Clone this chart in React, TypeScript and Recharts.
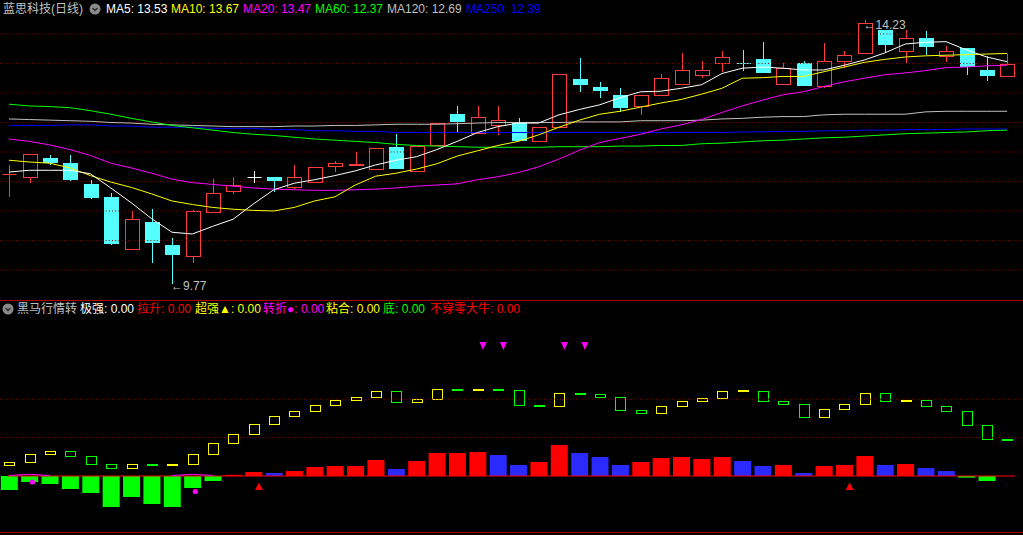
import React from "react";
import {
	Bar,
	Cell,
	ComposedChart,
	Line,
	ReferenceDot,
	ReferenceLine,
	Scatter,
	XAxis,
	YAxis,
} from "recharts";

// ---- price panel data (蓝思科技 日线) ----
const candleOpen = [
	11.62, 11.58, 11.9, 11.81, 11.46, 11.24, 10.36, 10.81, 10.42, 10.24,
	10.99, 11.34, 11.58, 11.58, 11.4, 11.49, 11.77, 11.78, 11.72, 12.08,
	11.68, 12.12, 12.64, 12.32, 12.45, 12.51, 12.18, 12.42, 13.24, 13.1,
	12.97, 12.78, 12.96, 13.16, 13.31, 13.5, 13.51, 13.58, 13.15, 13.51,
	13.11, 13.55, 13.67, 14.06, 13.72, 13.93, 13.62, 13.76, 13.39, 13.28,
];
const candleHigh = [
	11.78, 11.97, 11.95, 11.95, 11.53, 11.31, 11.0, 11.03, 10.55, 11.02,
	11.54, 11.58, 11.68, 11.58, 11.78, 11.74, 11.85, 12.0, 12.06, 12.31,
	12.1, 12.49, 12.78, 12.78, 12.78, 12.58, 12.42, 13.32, 13.59, 13.19,
	13.08, 12.97, 13.32, 13.67, 13.54, 13.71, 13.73, 13.86, 13.5, 13.54,
	13.85, 13.71, 14.23, 14.06, 14.07, 14.05, 13.8, 13.76, 13.62, 13.66,
];
const candleLow = [
	11.24, 11.48, 11.78, 11.51, 11.21, 10.43, 10.34, 10.11, 9.77, 10.11,
	10.98, 11.29, 11.48, 11.33, 11.37, 11.47, 11.66, 11.76, 11.7, 11.71,
	11.66, 12.12, 12.34, 12.32, 12.29, 12.19, 12.18, 12.42, 13.01, 12.92,
	12.67, 12.63, 12.96, 13.16, 13.26, 13.36, 13.37, 13.34, 13.15, 13.11,
	13.09, 13.42, 13.67, 13.68, 13.5, 13.65, 13.53, 13.3, 13.2, 13.28,
];
const candleClose = [
	11.63, 11.97, 11.81, 11.53, 11.22, 10.44, 10.86, 10.46, 10.25, 11.0,
	11.31, 11.44, 11.58, 11.51, 11.57, 11.74, 11.81, 11.8, 12.06, 11.71,
	12.1, 12.49, 12.51, 12.59, 12.55, 12.19, 12.42, 13.32, 13.14, 13.04,
	12.75, 12.97, 13.25, 13.39, 13.39, 13.61, 13.5, 13.34, 13.42, 13.11,
	13.55, 13.64, 14.18, 13.82, 13.93, 13.78, 13.72, 13.44, 13.28, 13.49,
];

const ma5 = [
	11.66, 11.69, 11.69, 11.69, 11.63, 11.39, 11.14, 10.87, 10.64, 10.61,
	10.74, 10.86, 11.12, 11.36, 11.47, 11.53, 11.6, 11.68, 11.78, 11.86,
	11.92, 12.04, 12.18, 12.33, 12.43, 12.49, 12.49, 12.63, 12.72, 12.8,
	12.92, 13.02, 13.03, 13.08, 13.14, 13.33, 13.42, 13.44, 13.42, 13.39,
	13.39, 13.47, 13.56, 13.68, 13.83, 13.86, 13.87, 13.73, 13.61, 13.53,
];
const ma10 = [
	11.86, 11.83, 11.81, 11.73, 11.6, 11.49, 11.4, 11.29, 11.17, 11.11,
	11.06, 11.03, 11.01, 11.0, 11.06, 11.17, 11.24, 11.44, 11.59, 11.64,
	11.71, 11.8, 11.93, 12.02, 12.11, 12.18, 12.29, 12.42, 12.54, 12.64,
	12.69, 12.76, 12.83, 12.89, 12.98, 13.08, 13.25, 13.26, 13.28, 13.28,
	13.36, 13.44, 13.52, 13.57, 13.61, 13.63, 13.64, 13.65, 13.66, 13.67,
];
const ma20 = [
	12.22, 12.18, 12.12, 12.04, 11.94, 11.81, 11.73, 11.64, 11.54, 11.48,
	11.45, 11.42, 11.39, 11.37, 11.36, 11.35, 11.35, 11.36, 11.37, 11.39,
	11.42, 11.44, 11.46, 11.53, 11.58, 11.65, 11.75, 11.88, 12.03, 12.16,
	12.23, 12.3, 12.39, 12.46, 12.55, 12.67, 12.78, 12.88, 12.97, 13.02,
	13.11, 13.19, 13.25, 13.31, 13.34, 13.38, 13.43, 13.44, 13.46, 13.47,
];
const ma60 = [
	12.81, 12.78, 12.77, 12.75, 12.7, 12.64, 12.57, 12.51, 12.45, 12.41,
	12.37, 12.33, 12.3, 12.28, 12.25, 12.22, 12.2, 12.18, 12.16, 12.13,
	12.11, 12.1, 12.09, 12.08, 12.08, 12.08, 12.08, 12.09, 12.09, 12.09,
	12.1, 12.1, 12.11, 12.11, 12.14, 12.15, 12.17, 12.19, 12.2, 12.22,
	12.24, 12.25, 12.27, 12.29, 12.31, 12.32, 12.33, 12.34, 12.36, 12.37,
];
const ma120 = [
	12.56, 12.55, 12.54, 12.53, 12.52, 12.5, 12.49, 12.47, 12.46, 12.45,
	12.44, 12.43, 12.43, 12.43, 12.44, 12.44, 12.45, 12.45, 12.46, 12.47,
	12.47, 12.47, 12.48, 12.49, 12.5, 12.5, 12.5, 12.5, 12.51, 12.51,
	12.51, 12.53, 12.53, 12.53, 12.54, 12.56, 12.57, 12.59, 12.6, 12.6,
	12.63, 12.64, 12.64, 12.64, 12.64, 12.68, 12.69, 12.69, 12.69, 12.69,
];
const ma250 = [
	12.45, 12.45, 12.45, 12.46, 12.46, 12.44, 12.44, 12.42, 12.42, 12.42,
	12.4, 12.4, 12.4, 12.38, 12.38, 12.36, 12.36, 12.35, 12.35, 12.33,
	12.33, 12.33, 12.33, 12.33, 12.33, 12.33, 12.33, 12.33, 12.33, 12.33,
	12.33, 12.33, 12.33, 12.33, 12.33, 12.33, 12.34, 12.34, 12.35, 12.35,
	12.36, 12.36, 12.37, 12.37, 12.38, 12.38, 12.38, 12.39, 12.39, 12.39,
];

const priceGrid = [10, 10.5, 11, 11.5, 12, 12.5, 13, 13.5, 14];

// ---- 黑马行情转 indicator data ----
const histValues = [
	-3.65, -1.56, -2.08, -3.39, -4.43, -8.07, -5.47, -7.29, -8.07, -3.13,
	-1.3, 0.3, 1.04, 0.78, 1.3, 2.34, 2.6, 2.6, 4.17, 1.82,
	3.91, 5.99, 5.99, 6.25, 5.47, 2.86, 3.65, 8.07, 5.99, 4.95,
	2.86, 3.65, 4.69, 4.95, 4.43, 4.95, 3.91, 2.6, 2.86, 0.78,
	2.6, 2.86, 5.21, 2.86, 3.13, 2.08, 1.3, -0.44, -1.3, 0,
];
// u = rising (red), d = weakening (blue), n = below zero (green)
const histState = [
	"n", "n", "n", "n", "n", "n", "n", "n", "n", "n",
	"n", "u", "u", "d", "u", "u", "u", "u", "u", "d",
	"u", "u", "u", "u", "d", "d", "u", "u", "d", "d",
	"d", "u", "u", "u", "u", "u", "d", "d", "u", "d",
	"u", "u", "u", "d", "u", "d", "d", "n", "n", "u",
];
const boxOpen = [
	2.68, 3.46, 5.55, 6.43, 5.13, 3.05, 1.9, 2.9, 2.85, 2.94,
	5.55, 8.41, 10.76, 13.36, 15.44, 16.74, 18.31, 19.61, 20.39, 22.06,
	19.09, 19.87, 22.42, 22.37, 22.42, 22.32, 18.31, 18.05, 21.4, 21.28,
	20.49, 17.11, 16.22, 18.05, 19.35, 20.13, 22.04, 22.06, 19.45, 18.67,
	15.18, 17.27, 18.57, 21.54, 19.5, 19.71, 18.15, 16.85, 13.2, 9.4,
];
const boxClose = [
	3.57, 5.65, 6.43, 5.03, 2.94, 1.9, 3.05, 2.85, 2.9, 5.65,
	8.52, 10.86, 13.46, 15.55, 16.85, 18.41, 19.71, 20.49, 22.06, 19.09,
	19.97, 22.58, 22.37, 22.42, 22.37, 18.31, 18.26, 21.54, 21.35, 20.39,
	17.01, 16.22, 18.15, 19.45, 20.23, 22.06, 22.08, 19.35, 18.57, 15.18,
	17.37, 18.67, 21.54, 19.35, 19.55, 18.05, 16.74, 13.1, 9.45, 9.35,
];
const turnLine = [
	0.13, 0.44, 0.13, null, null, null, null, null, 0.13, 0.44,
	0.13, null, null, null, null, null, null, null, null, null,
	null, null, null, null, null, null, null, null, null, null,
	null, null, null, null, null, null, null, null, null, null,
	null, null, null, null, null, null, null, null, null, null,
];
const sellMarks = [23, 24, 27, 28];
const sellLevel = 33.85;
const riseMarks = [12, 41];
const riseLevel = -2.73;
const turnDots = [
	{ i: 1, v: -1.56 },
	{ i: 9, v: -4.04 },
];
const indicatorGrid = [10, 20];

// ---- colours ----
const UP = "#ff3c3c";
const DOWN = "#54ffff";
const GRID = "#8c0000";
const FRAME = "#b00000";

const X_DOMAIN = [-0.4418, 49.779];

const priceData = candleOpen.map((open, i) => ({
	i,
	open,
	high: candleHigh[i],
	low: candleLow[i],
	close: candleClose[i],
	range: [candleLow[i], candleHigh[i]],
	ma5: ma5[i],
	ma10: ma10[i],
	ma20: ma20[i],
	ma60: ma60[i],
	ma120: ma120[i],
	ma250: ma250[i],
}));

const indicatorData = histValues.map((hist, i) => ({
	i,
	hist,
	boxOpen: boxOpen[i],
	boxClose: boxClose[i],
	box: [Math.min(boxOpen[i], boxClose[i]), Math.max(boxOpen[i], boxClose[i])],
	turn: turnLine[i],
}));

const histColor: Record<string, string> = { u: "#ff0000", d: "#2a2aff", n: "#00ff00" };

function CandleShape(props: any) {
	const { x, y, width, height, payload } = props;
	if (x == null || y == null || !payload) return <g />;
	const { open, high, low, close } = payload;
	const top = Math.min(y, y + height);
	const span = Math.abs(height);
	const toY = (v: number) => top + ((high - v) / (high - low)) * span;
	const cx = Math.round(x + width / 2) + 0.5;
	const yHigh = Math.round(top);
	const yLow = Math.round(top + span);
	const yOpen = toY(open);
	const yClose = toY(close);
	const bodyTop = Math.round(Math.min(yOpen, yClose));
	const bodyBottom = Math.round(Math.max(yOpen, yClose));
	const half = 7;

	if (close === open) {
		return (
			<g stroke="#ffffff" strokeWidth={1}>
				<line x1={cx} x2={cx} y1={yHigh} y2={yLow} />
				<line x1={cx - half} x2={cx + half} y1={bodyTop + 0.5} y2={bodyTop + 0.5} />
			</g>
		);
	}

	if (close > open) {
		if (bodyBottom - bodyTop < 1) {
			return (
				<g stroke={UP} strokeWidth={1}>
					<line x1={cx} x2={cx} y1={yHigh} y2={yLow} />
					<line x1={cx - half} x2={cx + half} y1={bodyTop + 0.5} y2={bodyTop + 0.5} />
				</g>
			);
		}
		return (
			<g stroke={UP} strokeWidth={1}>
				{bodyTop > yHigh && <line x1={cx} x2={cx} y1={yHigh} y2={bodyTop} />}
				{yLow > bodyBottom && <line x1={cx} x2={cx} y1={bodyBottom} y2={yLow} />}
				<rect
					x={cx - half}
					y={bodyTop + 0.5}
					width={half * 2}
					height={bodyBottom - bodyTop}
					fill="#000"
				/>
			</g>
		);
	}

	return (
		<g>
			<line x1={cx} x2={cx} y1={yHigh} y2={yLow} stroke={DOWN} strokeWidth={1} />
			<rect
				x={cx - half - 0.5}
				y={bodyTop}
				width={half * 2 + 1}
				height={Math.max(bodyBottom - bodyTop, 1)}
				fill={DOWN}
			/>
		</g>
	);
}

function BoxShape(props: any) {
	const { x, y, width, height, payload } = props;
	if (x == null || y == null || !payload) return <g />;
	const color = payload.boxClose >= payload.boxOpen ? "#ffff00" : "#00ff00";
	const top = Math.min(y, y + height);
	const h = Math.abs(height);
	const cx = Math.round(x + width / 2);
	if (h < 2) {
		return <rect x={cx - 5} y={Math.round(top + h / 2) - 1} width={11} height={2} fill={color} />;
	}
	return (
		<rect
			x={cx - 5 + 0.5}
			y={Math.round(top) + 0.5}
			width={10}
			height={Math.round(h)}
			fill="none"
			stroke={color}
			strokeWidth={1}
		/>
	);
}

function SellMark(props: any) {
	const { cx, cy } = props;
	if (cx == null || cy == null) return <g />;
	const x = cx + 5.5;
	return <polygon points={`${x - 3.5},${cy - 4} ${x + 3.5},${cy - 4} ${x},${cy + 4}`} fill="#ff00ff" />;
}

function RiseMark(props: any) {
	const { cx, cy } = props;
	if (cx == null || cy == null) return <g />;
	const x = cx + 5.5;
	return <polygon points={`${x},${cy - 4} ${x + 4},${cy + 3.5} ${x - 4},${cy + 3.5}`} fill="#ff0000" />;
}

function TurnDot(props: any) {
	const { cx, cy } = props;
	if (cx == null || cy == null) return <g />;
	return <circle cx={cx + 3} cy={cy} r={2.6} fill="#ff00ff" />;
}

function PriceTag(text: string, dy: number) {
	return (props: any) => (
		<text
			x={props.cx - 1}
			y={props.cy + dy}
			fill="#c0c0c0"
			fontSize={12}
			dominantBaseline="central"
			textAnchor="start"
		>
			{text}
		</text>
	);
}

function MenuIcon({ left, top }: { left: number; top: number }) {
	return (
		<svg width={12} height={12} style={{ position: "absolute", left, top }}>
			<circle cx={6} cy={6} r={5.5} fill="#8a8a8a" />
			<polyline points="3.5,5 6,7.5 8.5,5" fill="none" stroke="#2a2a2a" strokeWidth={1.4} />
		</svg>
	);
}

const last = (arr: number[]) => arr[arr.length - 1].toFixed(2);

const label = (left: number, top: number, color: string, text: string) => (
	<span
		style={{
			position: "absolute",
			left,
			top,
			color,
			fontSize: 12,
			lineHeight: "12px",
			whiteSpace: "nowrap",
		}}
	>
		{text}
	</span>
);

export default function App() {
	return (
		<div
			style={{
				position: "absolute",
				left: 0,
				top: 0,
				width: 1023,
				height: 535,
				background: "#000",
				overflow: "hidden",
				fontFamily: '"Liberation Sans", Arial, "Noto Sans CJK SC", sans-serif',
			}}
		>
			<div style={{ position: "absolute", left: 0, top: 0 }}>
				<ComposedChart width={1023} height={300} data={priceData} margin={{ top: 18, right: 0, bottom: 4, left: 0 }}>
					<XAxis type="number" dataKey="i" domain={X_DOMAIN} hide allowDataOverflow />
					<YAxis type="number" domain={[9.559, 14.271]} hide allowDataOverflow />
					{priceGrid.map((p) => (
						<ReferenceLine key={p} y={p} stroke={GRID} strokeDasharray="1 2.2" />
					))}
					<Line dataKey="ma250" stroke="#0000ff" strokeWidth={1} dot={false} isAnimationActive={false} />
					<Line dataKey="ma120" stroke="#c0c0c0" strokeWidth={1} dot={false} isAnimationActive={false} />
					<Line dataKey="ma60" stroke="#00ff00" strokeWidth={1} dot={false} isAnimationActive={false} />
					<Bar dataKey="range" barSize={15} shape={CandleShape} isAnimationActive={false} />
					<Line dataKey="ma20" stroke="#ff00ff" strokeWidth={1} dot={false} isAnimationActive={false} />
					<Line dataKey="ma10" stroke="#ffff00" strokeWidth={1} dot={false} isAnimationActive={false} />
					<Line dataKey="ma5" stroke="#ffffff" strokeWidth={1} dot={false} isAnimationActive={false} />
					<ReferenceDot x={42} y={14.23} r={0} shape={PriceTag("←14.23", 5)} />
					<ReferenceDot x={8} y={9.77} r={0} shape={PriceTag("←9.77", 2)} />
				</ComposedChart>
			</div>

			<div style={{ position: "absolute", left: 0, top: 300 }}>
				<ComposedChart width={1023} height={235} data={indicatorData} margin={{ top: 20, right: 0, bottom: 3, left: 0 }}>
					<XAxis type="number" dataKey="i" domain={X_DOMAIN} hide allowDataOverflow />
					<XAxis xAxisId="b" type="number" dataKey="i" domain={X_DOMAIN} hide allowDataOverflow />
					<YAxis type="number" domain={[-14.583, 40.625]} hide allowDataOverflow />
					{indicatorGrid.map((v) => (
						<ReferenceLine key={v} y={v} stroke={GRID} strokeDasharray="1 2.2" />
					))}
					<Bar dataKey="hist" barSize={17} isAnimationActive={false}>
						{indicatorData.map((d, i) => (
							<Cell key={i} fill={histColor[histState[i]]} />
						))}
					</Bar>
					<Bar xAxisId="b" dataKey="box" barSize={11} shape={BoxShape} isAnimationActive={false} />
					<ReferenceLine
						segment={[
							{ x: -0.05, y: 0 },
							{ x: 49.4, y: 0 },
						]}
						stroke="#ff0000"
					/>
					<Line dataKey="turn" stroke="#ff00ff" strokeWidth={1} dot={false} connectNulls={false} isAnimationActive={false} />
					<Scatter data={sellMarks.map((i) => ({ i, v: sellLevel }))} dataKey="v" shape={SellMark} isAnimationActive={false} />
					<Scatter data={riseMarks.map((i) => ({ i, v: riseLevel }))} dataKey="v" shape={RiseMark} isAnimationActive={false} />
					<Scatter data={turnDots} dataKey="v" shape={TurnDot} isAnimationActive={false} />
				</ComposedChart>
			</div>

			<div style={{ position: "absolute", left: 0, top: 300, width: 1023, height: 1, background: FRAME }} />
			<div style={{ position: "absolute", left: 0, top: 532, width: 1023, height: 1, background: FRAME }} />

			{label(3, 3, "#c0c0c0", "蓝思科技(日线)")}
			<MenuIcon left={89} top={3} />
			{label(106, 3, "#ffffff", `MA5: ${last(ma5)}`)}
			{label(171, 3, "#ffff00", `MA10: ${last(ma10)}`)}
			{label(243, 3, "#ff00ff", `MA20: ${last(ma20)}`)}
			{label(315, 3, "#00ff00", `MA60: ${last(ma60)}`)}
			{label(387, 3, "#c0c0c0", `MA120: ${last(ma120)}`)}
			{label(466, 3, "#0000ff", `MA250: ${last(ma250)}`)}

			<MenuIcon left={2} top={303} />
			{label(17, 303, "#c0c0c0", "黑马行情转")}
			{label(80, 303, "#ffffff", "极强: 0.00")}
			{label(137, 303, "#ff0000", "拉升: 0.00")}
			{label(195, 303, "#ffff00", "超强▲: 0.00")}
			{label(263, 303, "#ff00ff", "转折●: 0.00")}
			{label(326, 303, "#ffff00", "粘合: 0.00")}
			{label(383, 303, "#00ff00", "底: 0.00")}
			{label(430, 303, "#ff0000", "不穿零大牛: 0.00")}
		</div>
	);
}
